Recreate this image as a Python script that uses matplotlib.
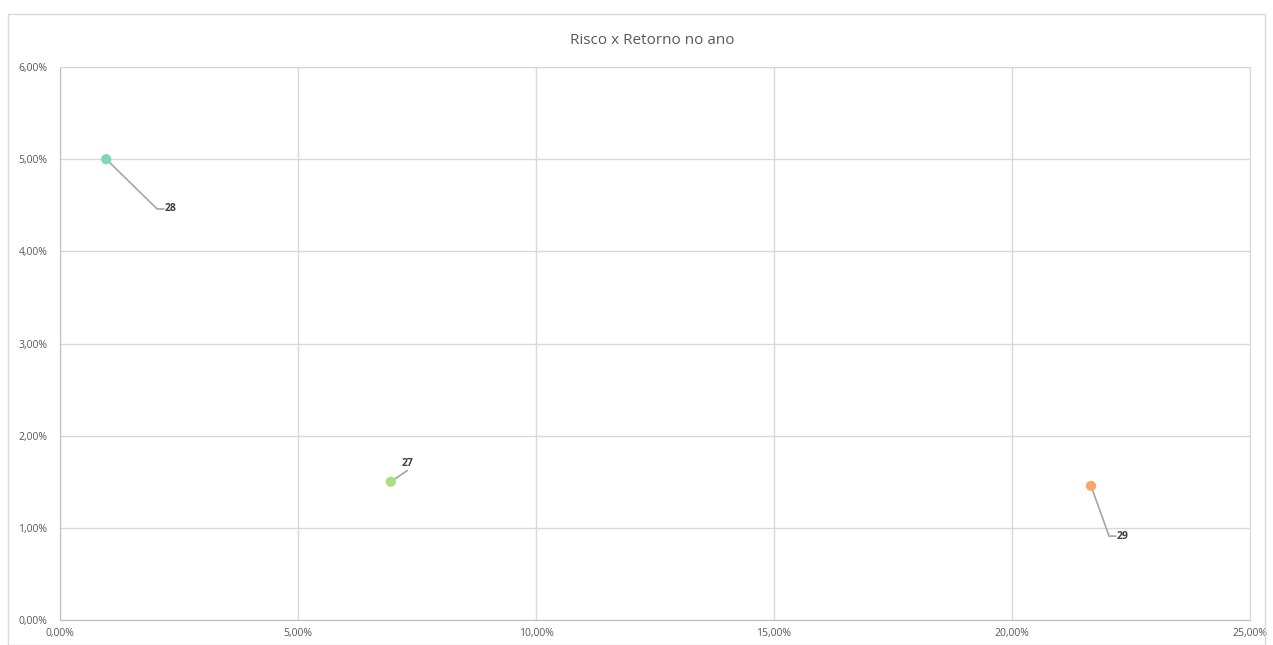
import matplotlib
matplotlib.use("Agg")
import matplotlib.pyplot as plt
from matplotlib.ticker import FuncFormatter, MultipleLocator
from matplotlib.patches import Rectangle

labels = ["27", "28", "29"]
risco = [6.95, 0.97, 21.66]      # x, %
retorno = [1.50, 5.00, 1.455]    # y, %
colors = ["#a9e07f", "#7fd9b6", "#f7a56c"]
label_pos = [(7.3, 1.70), (2.32, 4.46), (22.32, 0.91)]

fig = plt.figure(figsize=(12.73, 6.45), dpi=100)
fig.patches.append(Rectangle((8/1273, 0), 1 - 16/1273, 1 - 14/645, transform=fig.transFigure,
                             fill=False, edgecolor="#d9d9d9", linewidth=1))
ax = fig.add_axes([60/1273, 1 - 620/645, 1190/1273, 553/645])
ax.set_xlim(0, 25)
ax.set_ylim(0, 6)
ax.xaxis.set_major_locator(MultipleLocator(5))
ax.yaxis.set_major_locator(MultipleLocator(1))
fmt = FuncFormatter(lambda v, p: f"{v:.2f}%".replace(".", ","))
ax.xaxis.set_major_formatter(fmt)
ax.yaxis.set_major_formatter(fmt)
ax.grid(True, color="#d9d9d9", linewidth=1)
ax.set_axisbelow(True)
for s in ["top", "right"]:
    ax.spines[s].set_color("#d9d9d9")
for s in ["left", "bottom"]:
    ax.spines[s].set_color("#bfbfbf")
ax.tick_params(axis="y", length=0, labelsize=7.5, colors="#595959", pad=9)
ax.tick_params(axis="x", length=0, labelsize=7.5, colors="#595959", pad=6)
for t in ax.get_xticklabels() + ax.get_yticklabels():
    t.set_fontfamily("Open Sans")

ax.scatter(risco, retorno, s=40, c=colors, zorder=3)

for i, lab in enumerate(labels):
    lx, ly = label_pos[i]
    x, y = risco[i], retorno[i]
    if lab == "27":
        ax.plot([x, x + 0.34], [y, y + 0.12], color="#a6a6a6", lw=1.2, zorder=2)
    else:
        ax.plot([x, lx - 0.28, lx - 0.14], [y, ly, ly], color="#a6a6a6", lw=1.2, zorder=2)
    ax.text(lx, ly, lab, fontsize=7.5, ha="center", va="center", color="#404040",
            fontweight="bold", fontfamily="Open Sans")

fig.text(652/1273, 1 - 41/645, "Risco x Retorno no ano", ha="center", va="center",
         fontsize=11, color="#595959", fontfamily="Open Sans")

fig.savefig("out.png", dpi=100)
